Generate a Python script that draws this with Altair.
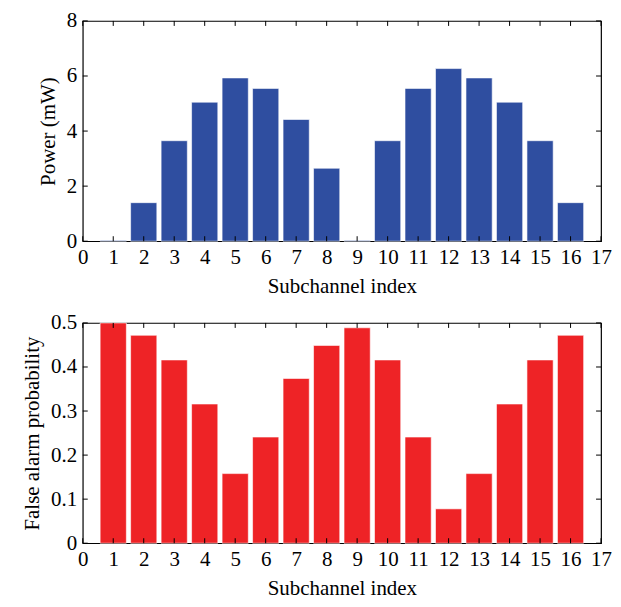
import altair as alt
import pandas as pd

subchannels = list(range(1, 17))
power_mw = [0.03, 1.4, 3.65, 5.05, 5.93, 5.55, 4.42, 2.65, 0.03, 3.65, 5.55, 6.27, 5.93, 5.05, 3.65, 1.4]
false_alarm = [0.5, 0.472, 0.416, 0.316, 0.158, 0.241, 0.374, 0.449, 0.489, 0.416, 0.241, 0.078, 0.158, 0.316, 0.416, 0.472]
x_ticks = list(range(0, 18))
power_ticks = [0, 2, 4, 6, 8]
fa_ticks = [0, 0.1, 0.2, 0.3, 0.4, 0.5]

W, H = 520, 221
FONT = "Liberation Serif"
BAR_HALF = 0.43

df_bars = pd.DataFrame({"ch": subchannels, "power": power_mw, "pfa": false_alarm})
df_xt = pd.DataFrame({"t": x_ticks})


def panel(field, ytitle, ydomain, yticks, color, fmt):
    xscale = alt.Scale(domain=[0, 17], nice=False, zero=False)
    yscale = alt.Scale(domain=ydomain, nice=False)
    xaxis = alt.Axis(values=x_ticks, format="d", ticks=False, title="Subchannel index",
                     labelPadding=5, titlePadding=8, domain=False, grid=False,
                     labelOverlap=False, labelFlush=False)
    yaxis = alt.Axis(values=yticks, format=fmt, ticks=False, title=ytitle,
                     labelPadding=6, titlePadding=8, domain=False, grid=False,
                     labelOverlap=False, labelFlush=False)
    bars = alt.Chart(df_bars).transform_calculate(
        x0=f"datum.ch - {BAR_HALF}", x1=f"datum.ch + {BAR_HALF}"
    ).mark_bar(color=color, stroke="white", strokeWidth=0.6).encode(
        x=alt.X("x0:Q", scale=xscale, axis=xaxis),
        x2="x1:Q",
        y=alt.Y(f"{field}:Q", scale=yscale, axis=yaxis),
        y2=alt.datum(0),
    )
    df_yt = pd.DataFrame({"v": yticks})
    xt_bottom = alt.Chart(df_xt).mark_rule(color="black", strokeWidth=1).encode(
        x=alt.X("t:Q", scale=xscale, axis=xaxis), y=alt.value(H), y2=alt.value(H - 5))
    xt_top = alt.Chart(df_xt).mark_rule(color="black", strokeWidth=1).encode(
        x=alt.X("t:Q", scale=xscale, axis=xaxis), y=alt.value(0), y2=alt.value(5))
    yt_left = alt.Chart(df_yt).mark_rule(color="black", strokeWidth=1).encode(
        y=alt.Y("v:Q", scale=yscale, axis=yaxis), x=alt.value(0), x2=alt.value(5))
    yt_right = alt.Chart(df_yt).mark_rule(color="black", strokeWidth=1).encode(
        y=alt.Y("v:Q", scale=yscale, axis=yaxis), x=alt.value(W), x2=alt.value(W - 5))
    return alt.layer(bars, xt_bottom, xt_top, yt_left, yt_right).properties(width=W, height=H)


top = panel("power", "Power (mW)", [0, 8], power_ticks, "#2F4EA0", "d")
bottom = panel("pfa", "False alarm probability", [0, 0.5], fa_ticks, "#EE2326", ".1~f")

chart = alt.vconcat(top, bottom, spacing=14).properties(
    padding={"left": 13, "top": 0, "right": 0, "bottom": 0}
).configure_view(stroke="black", strokeWidth=1.2).configure_axis(
    labelFont=FONT, titleFont=FONT, labelFontSize=21, titleFontSize=21,
    labelColor="black", titleColor="black", titleFontWeight="normal",
).configure_concat(spacing=14)

chart.save("out.html", embed_options={"renderer": "svg", "actions": False})
